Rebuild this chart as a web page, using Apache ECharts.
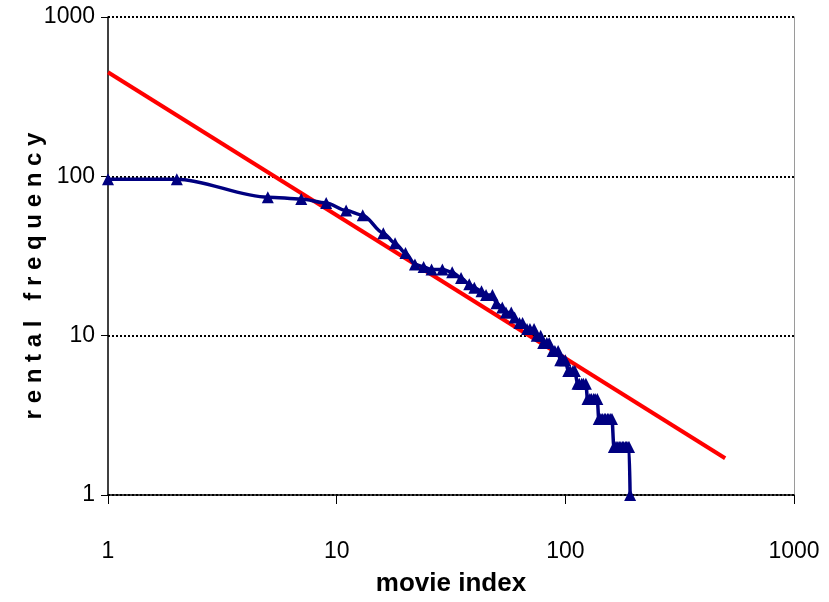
<!DOCTYPE html>
<html>
<head>
<meta charset="utf-8">
<script src="https://cdn.jsdelivr.net/npm/echarts@6/dist/echarts.min.js"></script>
<style>
html,body{margin:0;padding:0;background:#fff;}
#chart{width:829px;height:602px;}
</style>
</head>
<body>
<div id="chart"></div>
<script>
// Observed data: movie rank (x) and rental frequency (y)
const ranks = [1,2,5,7,9,11,13,16,18,20,22,24,26,29,32,35,38,40,43,45,48,50,53,55,58,60,63,65,68,70,73,75,78,80,83,85,88,90,93,95,98,100,103,105,108,110,113,115,118,120,123,125,128,130,133,135,138,140,143,145,148,150,153,155,158,160,163,165,168,170,173,175,178,180,183,185,188,190,192];
const freq  = [96,96,74,72,68,61,57,44,38,33,28,27,26,26,25,23,21,20,19,18,18,16,15,14,14,13,12,12,11,11,11,10,10,9,9,9,8,8,8,7,7,7,6,6,6,6,5,5,5,5,5,4,4,4,4,4,4,3,3,3,3,3,3,3,3,3,2,2,2,2,2,2,2,2,2,2,2,2,1];
// Power-law fit line endpoints
const fitX = [1, 500];
const fitY = [450, 1.7];
// Tick labels
const xTicks = [1, 10, 100, 1000];
const yTicks = [1, 10, 100, 1000];

const narrow = "'Liberation Sans Narrow','Arial Narrow','Liberation Sans',Arial,sans-serif";
const pad = '\u00a0\u00a0\u00a0\u00a0\u00a0\u00a0';

const chart = echarts.init(document.getElementById('chart'), null, {renderer:'canvas'});
chart.setOption({
  animation: false,
  backgroundColor: '#ffffff',
  grid: {left:108, right:35, top:17, bottom:105, containLabel:false},
  xAxis: {
    type: 'log', logBase: 10, min: 1, max: 1000,
    name: 'movie index', nameLocation: 'middle', nameGap: 76, nameMoveOverlap: false,
    nameTextStyle: {fontFamily: narrow, fontWeight: 'bold', fontSize: 26, color: '#000'},
    axisLine: {show: true, onZero: false, lineStyle: {color: '#000', width: 1.5}},
    axisTick: {show: true, length: 9, lineStyle: {color: '#000', width: 1}},
    minorTick: {show: false},
    axisLabel: {margin: 45, fontFamily: narrow, fontSize: 23, color: '#000',
      formatter: v => xTicks.indexOf(Math.round(v)) >= 0 ? String(Math.round(v)) : ''},
    splitLine: {show: false}
  },
  yAxis: [{
    type: 'log', logBase: 10, min: 1, max: 1000,
    name: 'r e n t a l \u00a0 f r e q u e n c y' + pad, nameLocation: 'middle', nameGap: 62,
    nameMoveOverlap: false,
    nameRotate: 90,
    nameTextStyle: {fontFamily: "'Liberation Sans',Arial,sans-serif", fontWeight: 'bold', fontSize: 24, color: '#000'},
    axisLine: {show: true, onZero: false, lineStyle: {color: '#000', width: 1.5}},
    axisTick: {show: true, length: 7, lineStyle: {color: '#000', width: 1}},
    axisLabel: {margin: 13, fontFamily: narrow, fontSize: 23, color: '#000',
      formatter: v => yTicks.indexOf(Math.round(v)) >= 0 ? String(Math.round(v)) : ''},
    splitLine: {show: true, lineStyle: {color: '#000', width: 2, type: [2, 2]}}
  },{
    type: 'log', logBase: 10, min: 1, max: 1000, position: 'right',
    axisLine: {show: true, lineStyle: {color: '#9a9a9a', width: 1}},
    axisTick: {show: false}, axisLabel: {show: false}, splitLine: {show: false}
  }],
  series: [
    {
      type: 'line', name: 'fit',
      data: fitX.map((x, i) => [x, fitY[i]]),
      showSymbol: false, symbol: 'none',
      lineStyle: {color: '#ff0000', width: 4},
      z: 2
    },
    {
      type: 'line', name: 'rentals',
      data: ranks.map((x, i) => [x, freq[i]]),
      smooth: 0.3, smoothMonotone: 'x',
      symbol: 'triangle', symbolSize: [12, 12],
      itemStyle: {color: '#000080'},
      lineStyle: {color: '#000080', width: 3.5},
      z: 3
    }
  ]
});
</script>
</body>
</html>
